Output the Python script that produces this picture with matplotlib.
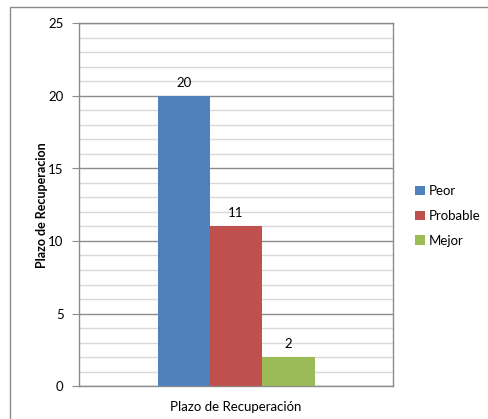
import matplotlib
matplotlib.use("Agg")
import matplotlib.pyplot as plt
from matplotlib.patches import Rectangle
import numpy as np

plt.rcParams['font.family'] = ['Lato', 'DejaVu Sans']

category = "Plazo de Recuperación"
series = ["Peor", "Probable", "Mejor"]
values = [20, 11, 2]
colors = ["#4F81BD", "#C0504D", "#9BBB59"]
y_label = "Plazo de Recuperacion"

W, H = 488, 419
fig = plt.figure(figsize=(W / 100, H / 100), dpi=100)

# outer chart border
fig.patches.append(Rectangle((10 / W, -0.05), (W - 10 + 20) / W, 1 - 7 / H + 0.05,
                             transform=fig.transFigure, fill=False,
                             edgecolor="#8C8C8C", linewidth=1.0))

ax = fig.add_axes([79 / W, 1 - 386 / H, (393 - 79) / W, (386 - 23.5) / H])

bar_w = 1.0 / 6.0
offsets = (np.arange(len(series)) - 1) * bar_w
for i, (s, v, c) in enumerate(zip(series, values, colors)):
    ax.bar(offsets[i], v, width=bar_w, color=c, label=s, zorder=3)
    ax.text(offsets[i], v + 0.5, str(v), ha="center", va="bottom", fontsize=9.5, zorder=4)

ax.set_xlim(-0.5, 0.5)
ax.set_ylim(0, 25)
ax.set_yticks(np.arange(0, 26, 5))
ax.set_yticks(np.arange(0, 26, 1), minor=True)
ax.grid(True, which="minor", axis="y", color="#D9D9D9", linewidth=1.0, zorder=0)
ax.grid(True, which="major", axis="y", color="#8C8C8C", linewidth=1.0, zorder=1)
ax.set_xticks([0])
ax.set_xticklabels([category], fontsize=9.5)
ax.tick_params(axis="x", length=0, pad=11)
ax.tick_params(axis="y", which="major", length=5, color="#8C8C8C", labelsize=9.5, pad=6)
ax.tick_params(axis="y", which="minor", length=0)
for sp in ax.spines.values():
    sp.set_color("#8C8C8C")
    sp.set_linewidth(1.0)
ax.set_ylabel(y_label, fontsize=9, fontweight="bold", labelpad=0)

handles, labels = ax.get_legend_handles_labels()
leg = fig.legend(handles, labels, loc="center left", bbox_to_anchor=(410 / W, 1 - 216 / H),
                 frameon=False, fontsize=9.5, handlelength=0.7, handleheight=0.7,
                 handletextpad=0.3, labelspacing=0.95, borderaxespad=0)

fig.savefig("out.png", dpi=100)
